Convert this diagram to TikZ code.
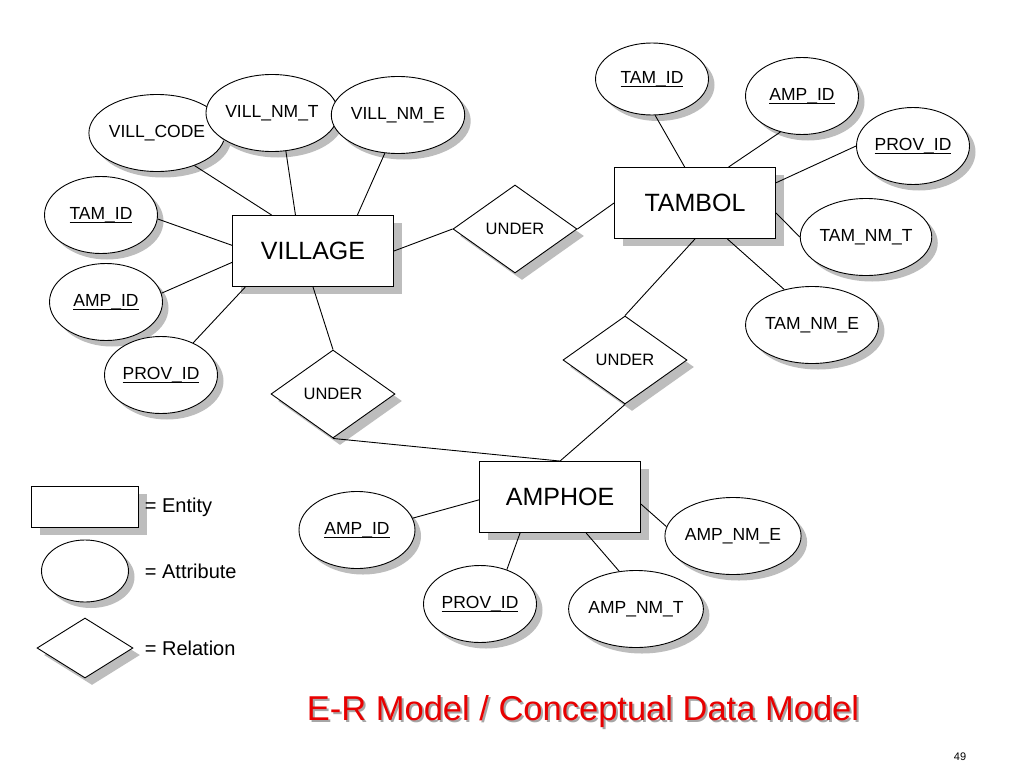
\documentclass[tikz,border=0pt]{standalone}
\usepackage{fontspec}
\setmainfont{Liberation Sans}
\usepackage{tikz}
\usetikzlibrary{shapes.geometric,shadows,positioning}
\definecolor{shade}{gray}{0.74}
\definecolor{titlered}{RGB}{232,0,0}
\newcommand{\pkey}[1]{\setbox0\hbox{#1}\rlap{\rule[-3.5pt]{\wd0}{0.9pt}}\box0}

\begin{document}
\begin{tikzpicture}[x=1pt,y=-1pt,line width=0.9pt,
  entity/.style={draw,fill=white,rectangle,minimum width=161pt,minimum height=71pt,inner sep=0pt,font=\fontsize{25}{28}\selectfont,drop shadow={shadow xshift=8pt,shadow yshift=-7pt,fill=shade,opacity=1}},
  attr/.style={draw,fill=white,ellipse,minimum width=113pt,minimum height=77pt,inner sep=0pt,font=\fontsize{17.5}{20}\selectfont,drop shadow={shadow xshift=6pt,shadow yshift=-6pt,fill=shade,opacity=1}},
  rel/.style={draw,fill=white,diamond,minimum width=124pt,minimum height=88pt,inner sep=0pt,font=\fontsize{16.5}{19}\selectfont,drop shadow={shadow xshift=7pt,shadow yshift=-7pt,fill=shade,opacity=1}},
  keytext/.style={inner sep=0pt,font=\fontsize{20}{24}\selectfont}]
\useasboundingbox[fill=white] (0,0) rectangle (1024,768);
\node[entity] (village) at (313,251) {VILLAGE};
\node[entity] (tambol) at (695,203) {TAMBOL};
\node[entity] (amphoe) at (560,497) {AMPHOE};
\node[rel] (underVT) at (515,229) {UNDER};
\node[rel] (underTA) at (625,360) {UNDER};
\node[rel] (underVA) at (333,394) {UNDER};
\node[attr] (vcode) at (157,133) {VILL\_CODE};
\node[attr] (vnmt) at (272,113) {VILL\_NM\_T};
\node[attr] (vnme) at (398,115) {VILL\_NM\_E};
\node[attr] (vtam) at (101,215) {\pkey{TAM\_ID}};
\node[attr] (vamp) at (106,302) {\pkey{AMP\_ID}};
\node[attr] (vprov) at (161,375) {\pkey{PROV\_ID}};
\node[attr,minimum height=72pt] (ttam) at (652,79) {\pkey{TAM\_ID}};
\node[attr] (tamp) at (802,96) {\pkey{AMP\_ID}};
\node[attr] (tprov) at (913,146) {\pkey{PROV\_ID}};
\node[attr,minimum width=116pt] (tnmt) at (866,237) {TAM\_NM\_T};
\node[attr] (tnme) at (812,325) {TAM\_NM\_E};
\node[attr,minimum width=116pt] (aamp) at (357,530) {\pkey{AMP\_ID}};
\node[attr] (aprov) at (480,604) {\pkey{PROV\_ID}};
\node[attr,minimum width=124pt] (anmt) at (636,609) {AMP\_NM\_T};
\node[attr] (anme) at (733,536) {AMP\_NM\_E};
\draw (vcode.-41) -- (village.139);
\draw (vnmt.-70) -- (village.116);
\draw (vnme.251) -- (village.39);
\draw (vtam.-4) -- (village.176);
\draw (vamp.9) -- (village.188);
\draw (vprov.45) -- (village.208);
\draw (village.east) -- (underVT.west);
\draw (underVT.east) -- (tambol.west);
\draw (village.south) -- (underVA.north);
\draw (tambol.south) -- (underTA.north);
\draw (underVA.south) -- (amphoe.north);
\draw (underTA.south) -- (amphoe.north);
\draw (ttam.-85) -- (tambol.106);
\draw (tamp.239) -- (tambol.47);
\draw (tprov.west) -- (tambol.14);
\draw (tnmt.west) -- (tambol.-7);
\draw (tnme.128) -- (tambol.-48);
\draw (aamp.12) -- (amphoe.182);
\draw (aprov.52) -- (amphoe.222);
\draw (anmt.114) -- (amphoe.-54);
\draw (anme.172) -- (amphoe.-5);
\node[entity,minimum width=107pt,minimum height=41pt] (keyentity) at (85,507) {};
\node[attr,minimum width=87pt,minimum height=62pt] (keyattr) at (85,571) {};
\node[rel,minimum width=96pt,minimum height=60pt] (keyrel) at (85,648) {};
\node[keytext,right=5.5pt of keyentity] (entitylabel) {= Entity};
\node[keytext,right=15.5pt of keyattr] (attrlabel) {= Attribute};
\node[keytext,right=11pt of keyrel] (rellabel) {= Relation};
\node[font=\fontsize{34.5}{40}\selectfont,text=black!35] (titleshade) at (585,714) {E-R Model / Conceptual Data Model};
\node[font=\fontsize{34.5}{40}\selectfont,text=titlered] (title) at (583,712) {E-R Model / Conceptual Data Model};
\node[font=\fontsize{11}{13}\selectfont] (pageno) at (960,757) {49};
\end{tikzpicture}
\end{document}
